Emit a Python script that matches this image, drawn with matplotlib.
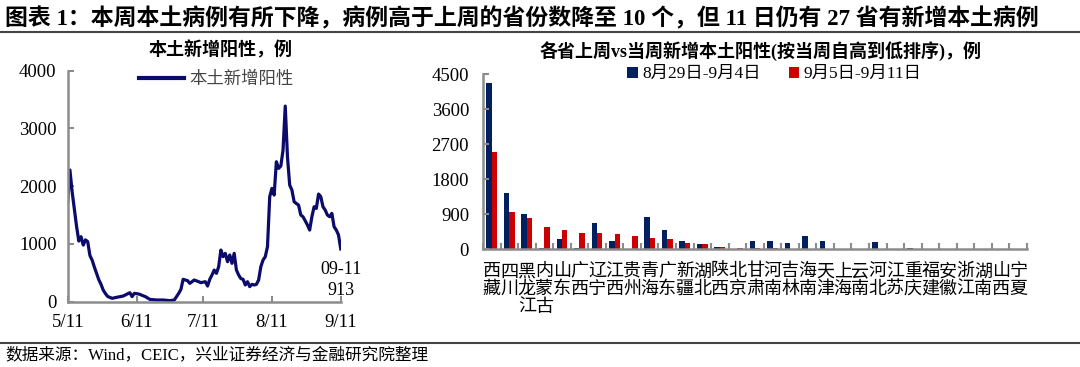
import matplotlib
matplotlib.use('Agg')
import matplotlib.pyplot as plt
from matplotlib.lines import Line2D
import numpy as np

plt.rcParams['font.family'] = ['Liberation Serif', 'Noto Sans CJK SC', 'DejaVu Sans']
plt.rcParams['axes.unicode_minus'] = False

# Left panel: daily new local positive cases, days counted from 5/11
days = [0, 1, 2, 3, 4, 5, 6, 7, 8, 9, 10, 11, 12, 13, 14, 15, 16, 17, 18, 20,
        22, 25, 28, 29, 30, 32, 35, 37, 40, 43, 46, 48, 50, 51, 52, 54, 55, 57,
        59, 60, 62, 63, 64, 65, 66, 67, 68, 69, 70, 71, 72, 73, 74, 75, 76, 77,
        78, 79, 80, 81, 82, 83, 84, 85, 86, 87, 88, 89, 90, 91, 92, 93, 94, 95,
        96, 97, 98, 99, 100, 101, 102, 103, 104, 105, 106, 107, 108, 109, 110,
        111, 112, 113, 114, 115, 116, 117, 118, 119, 120, 121, 122, 123]
cases = [1730, 2280, 1900, 1600, 1300, 1050, 1125, 980, 1070, 1040, 800, 720,
         600, 490, 380, 300, 200, 140, 90, 58, 75, 98, 156, 87, 144, 133, 87,
         40, 29, 29, 17, 29, 144, 213, 387, 364, 317, 375, 346, 329, 346, 271,
         387, 462, 548, 490, 606, 894, 779, 837, 692, 808, 664, 837, 548, 462,
         400, 387, 289, 346, 260, 300, 289, 300, 375, 606, 721, 779, 952, 1818,
         1962, 1846, 2423, 2308, 2348, 2625, 3387, 2510, 2020, 1933, 1731, 1700,
         1673, 1500, 1471, 1400, 1327, 1240, 1471, 1644, 1615, 1864, 1818, 1644,
         1586, 1500, 1471, 1529, 1298, 1240, 1154, 913]
date_ticks = [0, 31, 61, 92, 123]
date_labels = ['5/11', '6/11', '7/11', '8/11', '9/11']

# Right panel: new local positives by province, last week vs this week
provinces = ['西藏', '四川', '黑龙江', '内蒙古', '山东', '广西', '辽宁', '江西', '贵州',
             '青海', '广东', '新疆', '湖北', '陕西', '北京', '甘肃', '河南', '吉林',
             '海南', '天津', '上海', '云南', '河北', '江苏', '重庆', '福建', '安徽',
             '浙江', '湖南', '山西', '宁夏']
last_week = [4270, 1440, 910, 50, 266, 40, 677, 223, 20, 840, 510, 215, 140, 72,
             0, 206, 214, 171, 351, 206, 0, 0, 180, 0, 40, 0, 0, 0, 0, 0, 0]
this_week = [2510, 970, 797, 566, 489, 420, 411, 394, 343, 283, 258, 158, 140, 72,
             51, 45, 40, 20, 15, 12, 0, 0, 0, 0, 0, 0, 0, 0, 0, 0, 0]

navy = '#0b0b6b'
blue = '#002060'
red = '#cc0000'
grey = '#8c8c8c'

fig = plt.figure(figsize=(10.8, 3.67), dpi=100)

fig.text(0.005, 0.95, '图表 1：本周本土病例有所下降，病例高于上周的省份数降至 10 个，但 11 日仍有 27 省有新增本土病例',
         fontsize=16.5, fontweight='bold', ha='left', va='center')
fig.add_artist(Line2D([0, 1], [0.912, 0.912], color='#444444', lw=1.5))
fig.add_artist(Line2D([0, 1], [0.065, 0.065], color='#444444', lw=1.5))
fig.text(0.005, 0.032, '数据来源：Wind，CEIC，兴业证券经济与金融研究院整理',
         fontsize=12, ha='left', va='center')

# left line chart
ax1 = fig.add_axes([0.0627, 0.178, 0.2528, 0.6294])
ax1.plot(days, cases, color=navy, lw=2.3)
ax1.set_xlim(0, 123)
ax1.set_ylim(0, 4000)
ax1.set_yticks([0, 1000, 2000, 3000, 4000])
ax1.set_xticks(date_ticks)
ax1.set_xticklabels(date_labels)
for s in ['top', 'right']:
    ax1.spines[s].set_visible(False)
for s in ['left', 'bottom']:
    ax1.spines[s].set_color(grey)
    ax1.spines[s].set_linewidth(1.8)
ax1.tick_params(axis='both', direction='in', color=grey, width=1.5, length=4,
                labelsize=13.5)
ax1.tick_params(axis='y', pad=8)
ax1.tick_params(axis='x', pad=9)
fig.text(0.204, 0.862, '本土新增阳性，例', fontsize=13, fontweight='bold',
         ha='center', va='center')
ax1.legend(handles=[Line2D([], [], color=navy, lw=3)], labels=['本土新增阳性'],
           loc='center', bbox_to_anchor=(0.2, 0.782), bbox_transform=fig.transFigure,
           frameon=False, fontsize=12.5, handlelength=2.6, handletextpad=0.3,
           labelcolor='#444444')
ax1.text(123, 700, '09-11\n913', fontsize=13, ha='center', va='top',
         linespacing=1.25)

# right bar chart
ax2 = fig.add_axes([0.4472, 0.3202, 0.5037, 0.4773])
x = np.arange(len(provinces))
w = 0.31
ax2.bar(x - w / 2, last_week, w, color=blue, label='8月29日-9月4日')
ax2.bar(x + w / 2, this_week, w, color=red, label='9月5日-9月11日')
ax2.set_xlim(-0.5, len(provinces) - 0.5)
ax2.set_ylim(0, 4500)
ax2.set_yticks([0, 900, 1800, 2700, 3600, 4500])
ax2.set_xticks(x)
ax2.set_xticklabels(['\n'.join(p) for p in provinces], fontsize=13,
                    va='top', linespacing=1.05)
ax2.set_xticks(np.arange(len(provinces) + 1) - 0.5, minor=True)
for s in ['top', 'right']:
    ax2.spines[s].set_visible(False)
for s in ['left', 'bottom']:
    ax2.spines[s].set_color(grey)
    ax2.spines[s].set_linewidth(1.8)
ax2.tick_params(axis='x', which='major', length=0, pad=10)
ax2.tick_params(axis='x', which='minor', direction='in', length=4, width=1.5,
                color=grey)
ax2.tick_params(axis='y', direction='in', length=4, width=1.5, color=grey,
                labelsize=13.5, pad=10)
fig.text(0.704, 0.862, '各省上周vs当周新增本土阳性(按当周自高到低排序)，例',
         fontsize=13, fontweight='bold', ha='center', va='center')
ax2.legend(loc='center', bbox_to_anchor=(0.717, 0.798), bbox_transform=fig.transFigure,
           ncol=2, frameon=False, fontsize=12.5, handlelength=0.6, handleheight=0.6,
           handletextpad=0.25, columnspacing=1.6)

fig.savefig('out.png', dpi=100)
